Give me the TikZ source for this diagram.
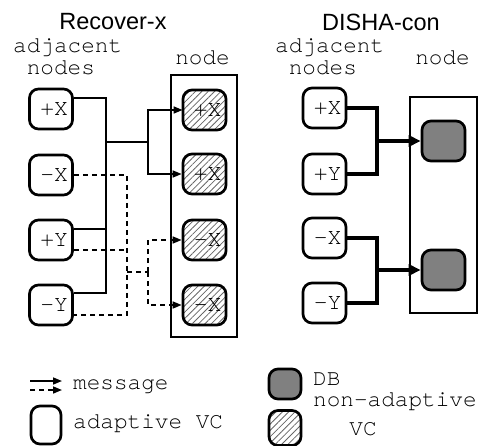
\documentclass[tikz,border=0pt]{standalone}
\usepackage{fontspec}
\newfontfamily\titlefont{Liberation Sans}
\newfontfamily\courfont{texgyrecursor-regular.otf}
\usetikzlibrary{arrows.meta,patterns.meta}
\tikzset{
 vc/.style={draw, line width=2.7pt, rounded corners=9pt, minimum width=43pt, minimum height=40pt, inner sep=0pt, text width=34pt, align=right, font=\courfont\fontsize{23}{23}\selectfont},
 hatched/.style={vc, pattern={Lines[angle=45,distance=4.5pt,line width=0.8pt]}, pattern color=black!60},
 dbvc/.style={vc, fill=black!50},
 nodebox/.style={draw, line width=1.6pt},
 wire/.style={line width=1.6pt},
 dwire/.style={line width=1.6pt, dash pattern=on 5pt off 4pt},
 fat/.style={line width=4pt},
 tip/.style={-{Triangle[length=9pt,width=7pt]}},
 bigtip/.style={-{Triangle[length=12pt,width=11pt]}},
 lbl/.style={font=\courfont\fontsize{22.7}{22.7}\selectfont, inner sep=0pt},
 ttl/.style={font=\titlefont\fontsize{23.5}{23.5}\selectfont, inner sep=0pt},
}
\begin{document}
\begin{tikzpicture}[x=1pt,y=-1pt]
\useasboundingbox (0,0) rectangle (481,446);
% titles
\node[ttl] (t1) at (113,22) {Recover-x};
\node[ttl] (t2) at (381,22) {DISHA-con};
\node[lbl,anchor=base west] (a1) at (13,53) {adjacent};
\node[lbl,anchor=base west] (n1) at (26.6,75) {nodes};
\node[lbl,anchor=base] (nd1) at (202.5,65) {node};
\node[lbl,anchor=base west] (a2) at (275,53) {adjacent};
\node[lbl,anchor=base west] (n2) at (288.6,75) {nodes};
\node[lbl,anchor=base] (nd2) at (442.5,65) {node};
% node boxes
\draw[nodebox] (171,75) rectangle (237,337);
\draw[nodebox] (410,97) rectangle (477,313);
% left adjacent
\node[vc] (L1) at (51,109) {+X};
\node[vc] (L2) at (51,175) {-X};
\node[vc] (L3) at (51,240) {+Y};
\node[vc] (L4) at (51,305) {-Y};
% left node VCs
\node[hatched] (R1) at (204.5,110) {+X};
\node[hatched] (R2) at (204.5,174) {+X};
\node[hatched] (R3) at (204.5,240) {-X};
\node[hatched] (R4) at (204.5,305) {-X};
% solid wires
\coordinate (ja) at (106,142);
\coordinate (jb) at (148,142);
\coordinate (q1) at ([yshift=11pt]L1.east);
\coordinate (q3) at ([yshift=11pt]L3.east);
\coordinate (q4) at ([yshift=12pt]L4.east);
\draw[wire] (q1) -| (q4 -| ja) -- (q4);
\draw[wire] (q3) -- (q3 -| ja);
\draw[wire] (ja) -- (jb);
\draw[wire,tip] (jb) |- (R1.west);
\draw[wire,tip] (jb) |- (R2.west);
% dashed wires
\coordinate (jc) at (127,272);
\coordinate (jd) at (148,272);
\coordinate (p3) at ([yshift=-10pt]L3.east);
\coordinate (p4) at ([yshift=-10pt]L4.east);
\draw[dwire] (L2.east) -| (p4 -| jc) -- (p4);
\draw[dwire] (p3) -- (p3 -| jc);
\draw[dwire] (jc) -- (jd);
\draw[dwire,tip] (jd) |- (R3.west);
\draw[dwire,tip] (jd) |- (R4.west);
% right adjacent
\node[vc] (D1) at (324.5,108) {+X};
\node[vc] (D2) at (324.5,174) {+Y};
\node[vc] (D3) at (324.5,238) {-X};
\node[vc] (D4) at (324.5,303) {-Y};
\node[dbvc] (B1) at (443.5,141) {};
\node[dbvc] (B2) at (443.5,270) {};
\coordinate (k1) at (377,141);
\coordinate (k2) at (377,270);
\draw[fat] (D1.east) -| (D2.east -| k1) -- (D2.east);
\draw[fat,bigtip] (k1) -- (B1.west);
\draw[fat] (D3.east) -| (D4.east -| k2) -- (D4.east);
\draw[fat,bigtip] (k2) -- (B2.west);
% legend
\coordinate (ms1) at (30,381);
\coordinate (me1) at (62,381);
\coordinate (ms2) at (30,390);
\coordinate (me2) at (62,390);
\draw[wire,tip] (ms1) -- (me1);
\draw[dwire,tip] (ms2) -- (me2);
\node[lbl,anchor=base west] (lm) at (73,389) {message};
\node[vc,minimum width=30pt,minimum height=38pt,text width=0pt] (la) at (46,425) {};
\node[lbl,anchor=base west] (lat) at (73,428) {adaptive VC};
\node[dbvc,minimum width=32pt,minimum height=30pt,text width=0pt] (ld) at (285,384) {};
\node[lbl,anchor=base west] (ldt) at (313,385) {DB};
\node[hatched,minimum width=32pt,minimum height=35pt,text width=0pt] (lh) at (285,428) {};
\node[lbl,anchor=base west] (lht) at (313,406) {non-adaptive};
\node[lbl,anchor=base] (lhv) at (363,435) {VC};
\end{tikzpicture}
\end{document}
